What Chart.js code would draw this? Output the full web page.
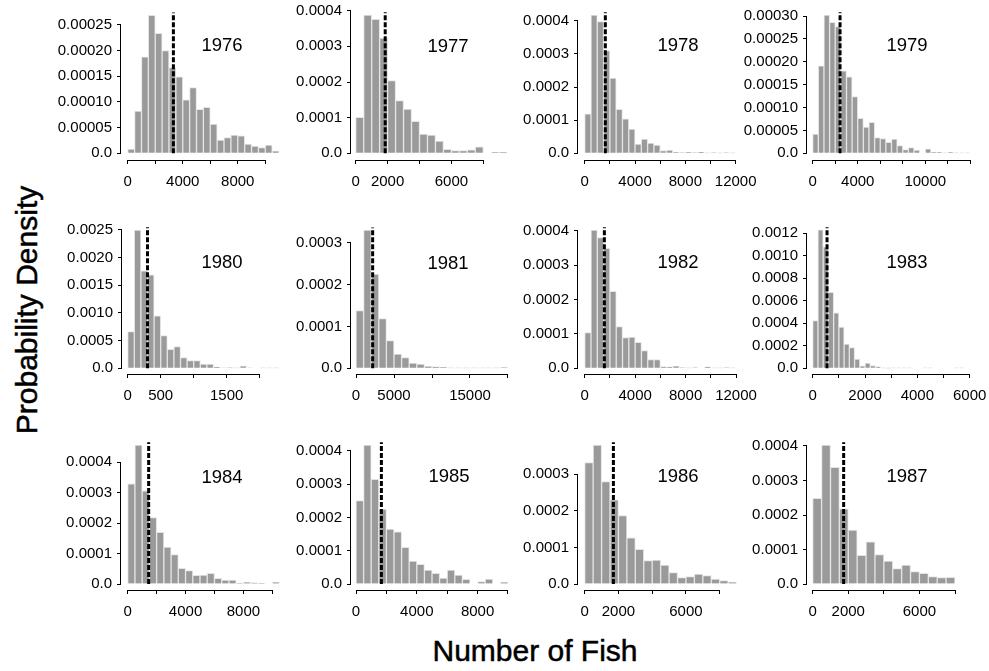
<!DOCTYPE html>
<html><head><meta charset="utf-8">
<script src="https://cdn.jsdelivr.net/npm/chart.js@4/dist/chart.umd.min.js"></script>
<style>
html,body{margin:0;padding:0;background:#fff}
body{width:989px;height:671px;overflow:hidden;position:relative;font-family:"Liberation Sans",Arial,sans-serif;color:#000}
.lbl{position:absolute;white-space:nowrap;transform:translate(-50%,-50%);line-height:1}
.ttl{-webkit-text-stroke:0.5px #000}
</style></head><body>
<div class="lbl ttl" style="left:27px;top:310px;font-size:30px;transform:translate(-50%,-50%) rotate(-90deg)">Probability Density</div>
<div class="lbl ttl" style="left:535px;top:651px;font-size:30px">Number of Fish</div>
<script>
// ---- data ----
const years = ["1976","1977","1978","1979","1980","1981","1982","1983","1984","1985","1986","1987"];
const binWidth = [500,500,500,500,100,1000,500,200,500,500,500,500];
const medians = [3320,1850,1640,2430,300,2190,1560,548,1450,1670,1700,1740];

const d1976 = [0.0000084,0.0000825,0.000188,0.000269,0.000234,0.0002,0.000167,0.000149,0.000104,0.000128,0.0000857,0.0000896,0.000057,0.000026,0.0000305,0.0000357,0.0000338,0.0000182,0.0000143,0.000011,0.0000162,0.0000045];
const d1977 = [0.000101,0.000388,0.000376,0.000323,0.000204,0.000148,0.000124,0.00009,0.000054,0.000051,0.0000346,0.0000112,0.0000075,0.0000075,0.0000094,0.0000178,0,0.000003,0.000003];
const d1978 = [0.000119,0.000417,0.000397,0.00031,0.000227,0.000133,0.000104,0.0000734,0.000028,0.0000432,0.0000312,0.0000251,0.000008,0.00001,0.000003,0.000002,0.000003,0.000002,0.000004,0.000001,0.000002,0.000001,0.000002,0.000001];
const d1979 = [0.0000422,0.000191,0.000302,0.000286,0.000277,0.00018,0.000167,0.000124,0.0000764,0.0000575,0.0000677,0.0000342,0.000032,0.000024,0.0000313,0.0000167,0.000008,0.0000124,0.0000073,0,0.0000095,0.000002,0.000002,0.000001,0.000002,0.000001,0.000001,0.000001];
const d1980 = [0.000662,0.0025,0.00176,0.00169,0.00095,0.00059,0.000343,0.000391,0.000193,0.000138,0.000138,0.000078,0.000078,0.000024,0.00001,0.000012,0.000008,0.000042,0.00001,0,0.000006,0.000006,0.000006];
const d1981 = [0.000138,0.00033,0.000225,0.000119,0.000066,0.0000342,0.0000255,0.0000127,0.0000103,0.0000048,0.000004,0.0000024,0.000001,0.000001,0.000001,0.000001,0.000001,0.000001,0.000001,0.000002];
const d1982 = [0.000104,0.000402,0.00038,0.000349,0.000224,0.000121,0.0000891,0.0000911,0.0000756,0.0000514,0.0000252,0.0000252,0.0000048,0.000004,0.0000068,0.000002,0.000001,0.000002,0,0.000004,0.000001,0.000001,0.000002,0.000001];
const d1983 = [0.000424,0.00123,0.00108,0.000676,0.000492,0.000367,0.000216,0.000184,0.000083,0.0000207,0.0000474,0.0000237,0.0000148,0.000003,0.000002,0.000003,0.000004,0.000004,0.000004,0,0,0.000004,0.000004,0,0,0,0,0.000004,0.000004];
const d1984 = [0.000329,0.000457,0.000306,0.000218,0.00017,0.000121,0.0000964,0.0000515,0.0000438,0.0000285,0.0000296,0.0000351,0.0000186,0.0000131,0.0000131,0.000003,0.0000055,0.000004,0.000002,0,0.0000055];
const d1985 = [0.000251,0.000418,0.000315,0.000225,0.000165,0.000157,0.00011,0.0000692,0.0000592,0.0000421,0.0000321,0.000018,0.0000421,0.0000271,0.000014,0,0.000007,0.000015,0,0.000005];
const d1986 = [0.000332,0.00038,0.00028,0.00023,0.000187,0.000126,0.0000948,0.0000638,0.0000657,0.000052,0.000031,0.0000173,0.00002,0.0000274,0.0000228,0.0000137,0.0000091,0.0000055];
const d1987 = [0.000248,0.000403,0.000338,0.000218,0.000156,0.0000831,0.000122,0.000085,0.0000667,0.0000444,0.0000551,0.0000357,0.0000309,0.0000213,0.0000184,0.0000193];
const densities = [d1976,d1977,d1978,d1979,d1980,d1981,d1982,d1983,d1984,d1985,d1986,d1987];

// tick labels
const xTickStep = [2000,2000,2000,2000,500,5000,2000,1000,2000,2000,2000,2000];
const xTickMax  = [10000,8000,12000,14000,2000,20000,12000,6000,10000,10000,8000,8000];
const xLabeled  = [[0,4000,8000],[0,2000,6000],[0,4000,8000,12000],[0,4000,10000],[0,500,1500],[0,5000,15000],[0,4000,8000,12000],[0,2000,4000,6000],[0,4000,8000],[0,4000,8000],[0,2000,6000],[0,2000,6000]];
const yTickStep = [0.00005,0.0001,0.0001,0.00005,0.0005,0.0001,0.0001,0.0002,0.0001,0.0001,0.0001,0.0001];
const yTickMax  = [0.00025,0.0004,0.0004,0.0003,0.0025,0.0003,0.0004,0.0012,0.0004,0.0004,0.0003,0.0004];
const yDecimals = [5,4,4,5,4,4,4,4,4,4,4,4];

// ---- layout (page pixels) ----
const layout = [
 {L:121,B:160,T:8,R:282,y0:153.3,yTop:25,x0:127.7,xLast:265.3,yx:222,yy:45},
 {L:351,B:160,T:8,R:508,y0:153.3,yTop:10.7,x0:355.7,xLast:483.3,yx:448,yy:46},
 {L:578,B:160,T:8,R:740,y0:153.3,yTop:20.7,x0:584.7,xLast:735.7,yx:678,yy:45},
 {L:807,B:160,T:8,R:972,y0:153.3,yTop:16,x0:812.7,xLast:970.3,yx:907,yy:45},
 {L:122,B:374,T:222,R:281,y0:368.3,yTop:230,x0:127.7,xLast:259.7,yx:222,yy:262},
 {L:351,B:374,T:222,R:510,y0:368.3,yTop:242.7,x0:356,xLast:508,yx:448,yy:263},
 {L:578,B:374,T:222,R:740,y0:368.3,yTop:230.7,x0:584.7,xLast:736,yx:678,yy:262},
 {L:807,B:374,T:222,R:972,y0:368.3,yTop:233.3,x0:812.7,xLast:969.7,yx:907,yy:262},
 {L:121,B:590,T:438,R:281,y0:584,yTop:462.3,x0:127.7,xLast:272.3,yx:222,yy:477},
 {L:351,B:590,T:438,R:510,y0:584,yTop:451,x0:356,xLast:508,yx:449,yy:476},
 {L:578,B:590,T:438,R:740,y0:584,yTop:474.3,x0:584.7,xLast:719.7,yx:678,yy:476},
 {L:807,B:590,T:438,R:960,y0:584,yTop:446,x0:812.7,xLast:955,yx:907,yy:476}
];

Chart.defaults.font.family = '"Liberation Sans", Arial, sans-serif';
Chart.defaults.font.size = 15;
Chart.defaults.color = '#000';

const axisLines = {
  id:'axisLines',
  afterDraw(chart){
    const ctx = chart.ctx, xs = chart.scales.x, ys = chart.scales.y;
    const xt = xs.ticks, yt = ys.ticks;
    ctx.save();
    ctx.strokeStyle = '#000'; ctx.lineWidth = 1;
    ctx.beginPath();
    const yb = Math.round(chart.chartArea.bottom) + 0.5;
    ctx.moveTo(xs.getPixelForValue(xt[0].value), yb);
    ctx.lineTo(xs.getPixelForValue(xt[xt.length-1].value), yb);
    const xl = Math.round(chart.chartArea.left) - 0.5;
    ctx.moveTo(xl, ys.getPixelForValue(yt[0].value));
    ctx.lineTo(xl, ys.getPixelForValue(yt[yt.length-1].value));
    ctx.stroke();
    ctx.restore();
  }
};

const YW = 70, XH = 35, PADR = 30, PADT = 16;

years.forEach((yr, i) => {
  const g = layout[i];
  const vals = densities[i];
  const bw = binWidth[i];
  const cl = g.L - YW, ct = g.T - PADT;
  const w = g.R - g.L + YW + PADR, h = g.B - g.T + PADT + XH;
  const pxY = (g.y0 - g.yTop) / yTickMax[i];
  const ymin = -(g.B - g.y0) / pxY, ymax = (g.y0 - g.T) / pxY;
  const pxX = (g.xLast - g.x0) / xTickMax[i];
  const xmin = -(g.x0 - g.L) / pxX, xmax = (g.R - g.x0) / pxX;
  const lineTop = Math.max(...vals) * 1.02;

  const cv = document.createElement('canvas');
  cv.width = w; cv.height = h;
  cv.style.cssText = `position:absolute;left:${cl}px;top:${ct}px;width:${w}px;height:${h}px`;
  document.body.appendChild(cv);

  const xt = []; for (let k = 0; k * xTickStep[i] <= xTickMax[i] + 1e-9; k++) xt.push(k * xTickStep[i]);
  const yt = []; for (let k = 0; k * yTickStep[i] <= yTickMax[i] * 1.0001; k++) yt.push(+(k * yTickStep[i]).toFixed(8));

  new Chart(cv, {
    type: 'bar',
    data: { datasets: [
      { type:'line', data:[{x:medians[i], y:0},{x:medians[i], y:lineTop}], borderColor:'#000', borderWidth:3, borderDash:[5,2], pointRadius:0, order:0, fill:false },
      { type:'bar', data: vals.map((v,j)=>({x:(j+0.5)*bw, y:v})), backgroundColor:'#9a9a9a', borderColor:'#e4e4e4', borderWidth:1, barPercentage:1, categoryPercentage:1, order:1 }
    ]},
    options: {
      responsive:false, animation:false, events:[],
      layout:{ padding:{ left:0, right:PADR, top:PADT, bottom:0 } },
      plugins:{ legend:{display:false}, tooltip:{enabled:false} },
      scales:{
        x:{ type:'linear', min:xmin, max:xmax, offset:false,
            grid:{ display:true, drawOnChartArea:false, drawTicks:true, tickLength:4, color:'#000', offset:false },
            border:{ display:false },
            ticks:{ autoSkip:false, maxRotation:0, minRotation:0, padding:9, font:{size:15},
                    callback:(v)=> xLabeled[i].includes(v) ? String(v) : '' },
            afterBuildTicks:(s)=>{ s.ticks = xt.map(v=>({value:v})); },
            afterFit:(s)=>{ s.height = XH; } },
        y:{ type:'linear', min:ymin, max:ymax,
            grid:{ display:true, drawOnChartArea:false, drawTicks:true, tickLength:4, color:'#000' },
            border:{ display:false },
            ticks:{ autoSkip:false, padding:5, font:{size:15},
                    callback:(v)=> Math.abs(v) < 1e-12 ? '0.0' : v.toFixed(yDecimals[i]) },
            afterBuildTicks:(s)=>{ s.ticks = yt.map(v=>({value:v})); },
            afterFit:(s)=>{ s.width = YW; } }
      }
    },
    plugins:[axisLines]
  });

  const lab = document.createElement('div');
  lab.className = 'lbl';
  lab.style.cssText = `left:${g.yx}px;top:${g.yy}px;font-size:18.5px`;
  lab.textContent = yr;
  document.body.appendChild(lab);
});
</script>
</body></html>
